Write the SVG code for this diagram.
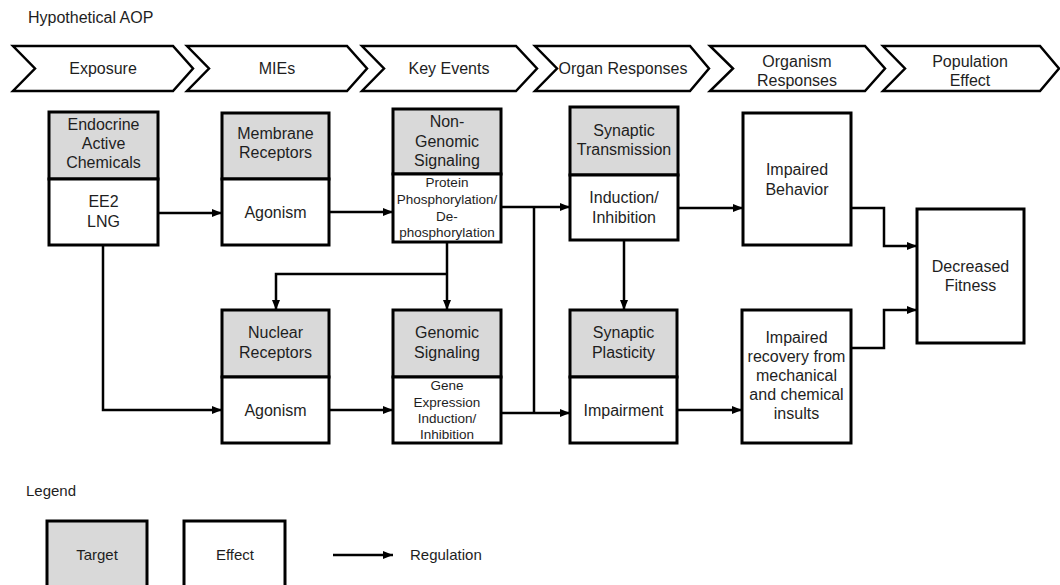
<svg xmlns="http://www.w3.org/2000/svg" width="1060" height="585" viewBox="0 0 1060 585">
<style>
text{font-family:"Liberation Sans",Arial,sans-serif;fill:#1e1e1e;text-anchor:middle}
.t16{font-size:16px}
.t13{font-size:13.5px}
.tl{text-anchor:start}
.chev{fill:#fff;stroke:#000;stroke-width:2.5;stroke-linejoin:miter}
.box{fill:#fff;stroke:#000;stroke-width:3}
.tgt{fill:#d9d9d9;stroke:#000;stroke-width:3}
.c{fill:none;stroke:#000;stroke-width:2.5}
</style>
<defs>
<marker id="ah" markerWidth="10" markerHeight="8" refX="10" refY="4" orient="auto" markerUnits="userSpaceOnUse"><path d="M0,0 L10,4 L0,8 z" fill="#000"/></marker>
</defs>
<rect width="1060" height="585" fill="#fff"/>
<text class="t16 tl" x="28" y="23">Hypothetical AOP</text>

<g id="stages">
<g id="stage-exposure"><polygon class="chev" points="13,46 173,46 193,68.5 173,91 13,91 35,68.5"/><text class="t16" x="103" y="74">Exposure</text></g>
<g id="stage-mies"><polygon class="chev" points="187,46 347,46 367,68.5 347,91 187,91 209,68.5"/><text class="t16" x="277" y="74">MIEs</text></g>
<g id="stage-ke"><polygon class="chev" points="362,46 516,46 537,68.5 516,91 362,91 384,68.5"/><text class="t16" x="449" y="74">Key Events</text></g>
<g id="stage-organ"><polygon class="chev" points="535,46 690,46 709,68.5 690,91 535,91 557,68.5"/><text class="t16" x="623" y="74">Organ Responses</text></g>
<g id="stage-organism"><polygon class="chev" points="710,46 865,46 885,68.5 865,91 710,91 733,68.5"/><text class="t16" x="797" y="67">Organism</text><text class="t16" x="797" y="86">Responses</text></g>
<g id="stage-population"><polygon class="chev" points="883,46 1040,46 1059,68.5 1040,91 883,91 905,68.5"/><text class="t16" x="970" y="67">Population</text><text class="t16" x="970" y="86">Effect</text></g>
</g>

<g id="connectors">
<path class="c" d="M158,213 H222" marker-end="url(#ah)"/>
<path class="c" d="M329,212 H393" marker-end="url(#ah)"/>
<path class="c" d="M501,207 H570" marker-end="url(#ah)"/>
<path class="c" d="M678,208 H743" marker-end="url(#ah)"/>
<path class="c" d="M447,242 V310" marker-end="url(#ah)"/>
<path class="c" d="M447,274 H276 V310" marker-end="url(#ah)"/>
<path class="c" d="M103,245 V410 H222" marker-end="url(#ah)"/>
<path class="c" d="M329,410 H393" marker-end="url(#ah)"/>
<path class="c" d="M501,413 H570" marker-end="url(#ah)"/>
<path class="c" d="M534,207 V413"/>
<path class="c" d="M624,240 V310" marker-end="url(#ah)"/>
<path class="c" d="M677,410 H742" marker-end="url(#ah)"/>
<path class="c" d="M851,208 H884 V246 H917" marker-end="url(#ah)"/>
<path class="c" d="M851,348 H884 V310 H917" marker-end="url(#ah)"/>
</g>

<g id="node-eac">
<rect class="tgt" x="49" y="112" width="109" height="67"/>
<rect class="box" x="49" y="179" width="109" height="66"/>
<text class="t16" x="103.5" y="130">Endocrine</text><text class="t16" x="103.5" y="149">Active</text><text class="t16" x="103.5" y="168">Chemicals</text>
<text class="t16" x="103.5" y="207">EE2</text><text class="t16" x="103.5" y="227">LNG</text>
</g>
<g id="node-membrane">
<rect class="tgt" x="222" y="113" width="107" height="66"/>
<rect class="box" x="222" y="179" width="107" height="66"/>
<text class="t16" x="275.5" y="139">Membrane</text><text class="t16" x="275.5" y="158">Receptors</text>
<text class="t16" x="275.5" y="218">Agonism</text>
</g>
<g id="node-nongenomic">
<rect class="tgt" x="393" y="109" width="108" height="65"/>
<rect class="box" x="393" y="174" width="108" height="68"/>
<text class="t16" x="447" y="127">Non-</text><text class="t16" x="447" y="147">Genomic</text><text class="t16" x="447" y="166">Signaling</text>
<text class="t13" x="447" y="187">Protein</text><text class="t13" x="447" y="204">Phosphorylation/</text><text class="t13" x="447" y="221">De-</text><text class="t13" x="447" y="237">phosphorylation</text>
</g>
<g id="node-syntrans">
<rect class="tgt" x="570" y="107" width="108" height="68"/>
<rect class="box" x="570" y="175" width="108" height="65"/>
<text class="t16" x="624" y="136">Synaptic</text><text class="t16" x="624" y="155">Transmission</text>
<text class="t16" x="624" y="203">Induction/</text><text class="t16" x="624" y="223">Inhibition</text>
</g>
<g id="node-behavior">
<rect class="box" x="743" y="113" width="108" height="132"/>
<text class="t16" x="797" y="175">Impaired</text><text class="t16" x="797" y="195">Behavior</text>
</g>
<g id="node-fitness">
<rect class="box" x="917" y="209" width="107" height="134"/>
<text class="t16" x="970.5" y="272">Decreased</text><text class="t16" x="970.5" y="291">Fitness</text>
</g>
<g id="node-nuclear">
<rect class="tgt" x="222" y="310" width="107" height="67"/>
<rect class="box" x="222" y="377" width="107" height="66"/>
<text class="t16" x="275.5" y="338">Nuclear</text><text class="t16" x="275.5" y="358">Receptors</text>
<text class="t16" x="275.5" y="416">Agonism</text>
</g>
<g id="node-genomic">
<rect class="tgt" x="393" y="310" width="108" height="67"/>
<rect class="box" x="393" y="377" width="108" height="66"/>
<text class="t16" x="447" y="338">Genomic</text><text class="t16" x="447" y="358">Signaling</text>
<text class="t13" x="447" y="390">Gene</text><text class="t13" x="447" y="407">Expression</text><text class="t13" x="447" y="423">Induction/</text><text class="t13" x="447" y="439">Inhibition</text>
</g>
<g id="node-plasticity">
<rect class="tgt" x="570" y="310" width="107" height="67"/>
<rect class="box" x="570" y="377" width="107" height="66"/>
<text class="t16" x="623.5" y="338">Synaptic</text><text class="t16" x="623.5" y="358">Plasticity</text>
<text class="t16" x="623.5" y="416">Impairment</text>
</g>
<g id="node-recovery">
<rect class="box" x="742" y="310" width="109" height="133"/>
<text class="t16" x="796.5" y="343">Impaired</text><text class="t16" x="796.5" y="362">recovery from</text><text class="t16" x="796.5" y="381">mechanical</text><text class="t16" x="796.5" y="400">and chemical</text><text class="t16" x="796.5" y="419">insults</text>
</g>

<g id="legend">
<text class="tl" style="font-size:15px" x="26" y="496">Legend</text>
<g id="legend-target"><rect class="tgt" x="47" y="521" width="100" height="75"/><text style="font-size:15px" x="97" y="560">Target</text></g>
<g id="legend-effect"><rect class="box" x="184" y="521" width="101" height="75"/><text style="font-size:15px" x="235" y="560">Effect</text></g>
<g id="legend-regulation"><path class="c" d="M333,555 H393" marker-end="url(#ah)"/><text class="tl" style="font-size:15px" x="410" y="560">Regulation</text></g>
</g>
</svg>
